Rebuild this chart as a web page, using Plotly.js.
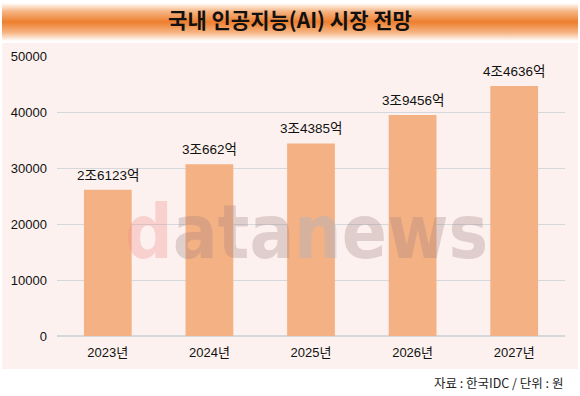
<!DOCTYPE html>
<html>
<head>
<meta charset="utf-8">
<script src="https://cdn.plot.ly/plotly-3.0.1.min.js"></script>
<style>
html,body{margin:0;padding:0;background:#fff;}
#wrap{position:relative;width:580px;height:396px;}
#band{position:absolute;left:2px;top:3px;width:576px;height:38px;
 background:linear-gradient(to bottom,#ffffff 0%,#f6b584 22%,#ee7e2e 50%,#f6b584 78%,#ffffff 100%);}
#chart{position:absolute;left:0;top:0;width:580px;height:396px;}
</style>
</head>
<body>
<div id="wrap"><div id="band"></div><div id="chart"></div></div>
<script>
var categories = ["2023년", "2024년", "2025년", "2026년", "2027년"];
var values = [26123, 30662, 34385, 39456, 44636];
var labels = ["2조6123억", "3조662억", "3조4385억", "3조9456억", "4조4636억"];
var yTicks = [0, 10000, 20000, 30000, 40000, 50000];

var font = "Liberation Sans, 'Noto Sans CJK KR', sans-serif";

var trace = {
  type: "bar",
  x: categories,
  y: values,
  marker: {color: "#f4b183", line: {width: 0}},
  hoverinfo: "none"
};

var valueLabels = categories.map(function (c, i) {
  return {x: c, y: values[i], xref: "x", yref: "y", text: labels[i], showarrow: false,
          xanchor: "center", yanchor: "bottom", yshift: 5,
          font: {family: font, size: 13.5, color: "#111"}};
});

var layout = {
  width: 580, height: 396,
  margin: {l: 57, r: 15, t: 56, b: 60},
  paper_bgcolor: "rgba(0,0,0,0)",
  plot_bgcolor: "rgba(0,0,0,0)",
  bargap: 0.53,
  showlegend: false,
  font: {family: font, size: 13, color: "#111"},
  title: {text: "<b>국내 인공지능(AI) 시장 전망</b>", x: 0.5, xanchor: "center", y: 0.947, yanchor: "middle",
          font: {family: "'Noto Sans CJK KR', sans-serif", size: 21, color: "#111"}},
  xaxis: {type: "category", showgrid: false, zeroline: false, showline: false, ticks: "",
          ticklabelstandoff: 7,
          tickfont: {family: font, size: 13, color: "#111"}},
  yaxis: {range: [0, 50000], tickvals: yTicks, ticktext: yTicks.map(String), showgrid: true,
          gridcolor: "#d4d8dc", gridwidth: 1, zeroline: true, zerolinecolor: "#d4d8dc", zerolinewidth: 1.5,
          showline: false, ticks: "", ticklabelstandoff: 9,
          tickfont: {family: font, size: 13, color: "#111"}},
  shapes: [{type: "rect", xref: "paper", yref: "paper", x0: -0.108, x1: 1.0256, y0: -0.118, y1: 1.046,
            fillcolor: "#fcf1ee", line: {width: 0}, layer: "below"}],
  annotations: [
    {xref: "paper", yref: "paper", x: 0.492, y: 0.37, xanchor: "center", yanchor: "middle", showarrow: false,
     text: "<b><span style='color:#f08a8a'>d</span>ata<span style='color:#8fb4dc'>n</span>ews</b>",
     font: {family: "'DejaVu Sans Condensed', 'DejaVu Sans', sans-serif", size: 74, color: "#a08080"}, opacity: 0.3},
    {xref: "paper", yref: "paper", x: 1, y: -0.165, xanchor: "right", yanchor: "middle", showarrow: false,
     text: "자료 : 한국IDC / 단위 : 원", font: {family: "'Noto Sans CJK KR', sans-serif", size: 12.5, color: "#222"}}
  ].concat(valueLabels)
};

Plotly.newPlot("chart", [trace], layout, {displayModeBar: false, staticPlot: true});
</script>
</body>
</html>
